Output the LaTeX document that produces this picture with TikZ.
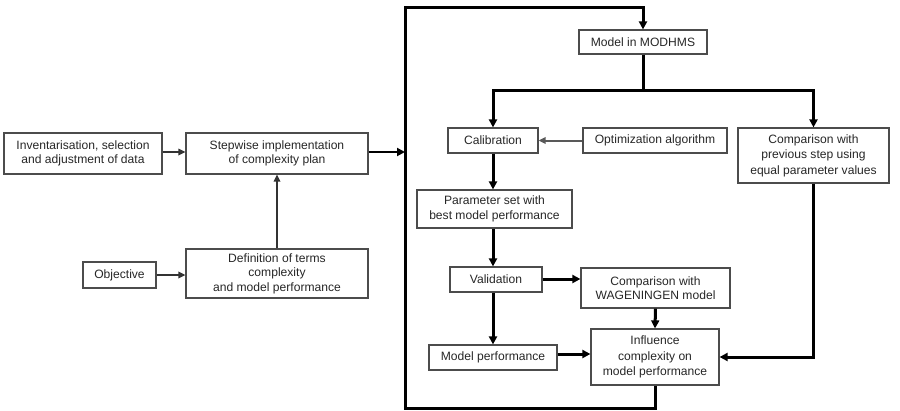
\documentclass[tikz,border=0pt]{standalone}
\usepackage{fontspec}
\setmainfont{Liberation Sans}
\usetikzlibrary{arrows.meta}
\begin{document}
\begin{tikzpicture}[x=1pt,y=-1pt,
  box/.style={draw=black!70, line width=1.2pt, inner sep=0pt, align=center,
    font=\fontsize{12.1}{14.5}\selectfont, text=black!85},
  thinarr/.style={line width=1.6pt, draw=black!80, -{Triangle[length=7pt,width=6.5pt]}},
  thkline/.style={line width=3pt, draw=black},
  thkarr/.style={thkline, -{Triangle[length=8pt,width=8pt]}}]
\useasboundingbox (0,0) rectangle (900,410);
% left part
\node[box, minimum width=158pt, minimum height=41pt] (inv) at (83,153.5) {Inventarisation, selection\\and adjustment of data};
\node[box, minimum width=182pt, minimum height=41pt] (step) at (277,153.5) {Stepwise implementation\\of complexity plan};
\node[box, minimum width=182pt, minimum height=49pt] (def) at (277,273.5) {Definition of terms\\complexity\\and model performance};
\node[box, minimum width=73pt, minimum height=26pt] (obj) at (119.5,275) {Objective};
% right part
\node[box, minimum width=128pt, minimum height=24pt] (model) at (643,42) {Model in MODHMS};
\node[box, minimum width=90pt, minimum height=25pt] (cal) at (493,140.5) {Calibration};
\node[box, minimum width=144pt, minimum height=25pt] (opt) at (655,140.5) {Optimization algorithm};
\node[box, minimum width=151pt, minimum height=55pt, font=\fontsize{12.1}{15.5}\selectfont] (cmp) at (813.5,155.5) {Comparison with\\previous step using\\equal parameter values};
\node[box, minimum width=155pt, minimum height=38pt] (par) at (494.5,209) {Parameter set with\\best model performance};
\node[box, minimum width=92pt, minimum height=25pt] (val) at (496,279.5) {Validation};
\node[box, minimum width=149pt, minimum height=40pt] (wag) at (655.5,288) {Comparison with\\WAGENINGEN model};
\node[box, minimum width=128pt, minimum height=25pt] (mp) at (493,357.5) {Model performance};
\node[box, minimum width=128pt, minimum height=56pt, font=\fontsize{12.1}{15.5}\selectfont] (inf) at (655,357) {Influence\\complexity on\\model performance};
% coordinates
\coordinate (bus) at (405,152);
\coordinate (lb) at (405,408);
\coordinate (lt) at (405,7);
\coordinate (split) at (643,90);
% left connectors
\draw[thinarr] (inv.east |- bus) -- (step.west |- bus);
\draw[thinarr, line width=2.2pt] (obj.east) -- (obj.east -| def.west);
\draw[thinarr] (def.north) -- (step.south);
\draw[thkarr, line width=2.2pt] (step.east |- bus) -- (bus);
% loop
\draw[thkarr, line join=miter] (inf.south) |- (lb) -- (lt) -| (model.north);
% right connectors
\draw[thkline] (model.south) -- (split);
\draw[thkarr] (split) -| (cal.north);
\draw[thkarr] (split) -| (cmp.north);
\draw[thinarr, draw=black!65, line width=2pt] (opt.west) -- (cal.east);
\draw[thkarr] (cal.south) -- (cal.south |- par.north);
\draw[thkarr] (cal.south |- par.south) -- (cal.south |- val.north);
\draw[thkarr] (cal.south |- val.south) -- (cal.south |- mp.north);
\draw[thkarr] (val.east |- 0,279) -- (wag.west |- 0,279);
\draw[thkarr] (wag.south) -- (inf.north);
\draw[thkarr] (mp.east |- 0,354) -- (inf.west |- 0,354);
\draw[thkarr] (cmp.south) |- (inf.east);
\end{tikzpicture}
\end{document}
